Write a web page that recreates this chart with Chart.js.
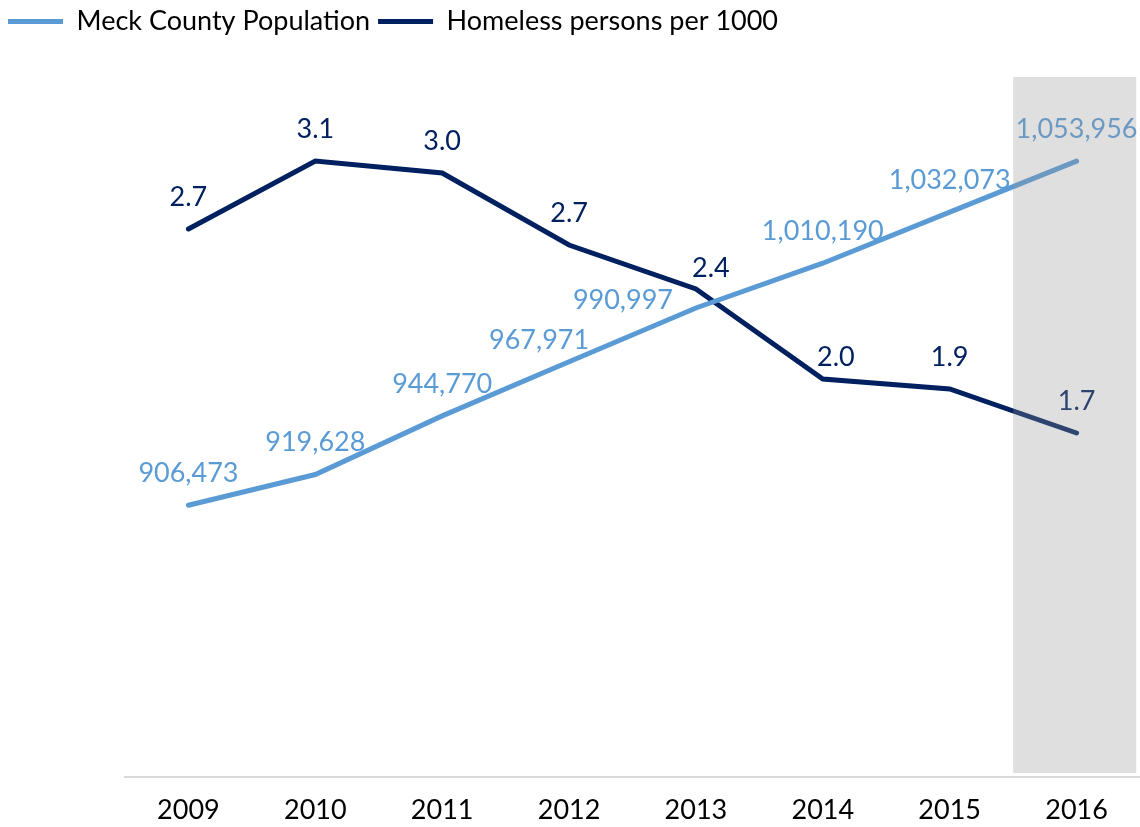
<!DOCTYPE html>
<html>
<head>
<meta charset="utf-8">
<script src="https://cdn.jsdelivr.net/npm/chart.js@4"></script>
<style>
  body { margin: 0; background: #fff; }
  #wrap { width: 1140px; height: 827px; }
</style>
</head>
<body>
<div id="wrap"><canvas id="canvas"></canvas></div>
<script>
// data
var years = ['2009', '2010', '2011', '2012', '2013', '2014', '2015', '2016'];
var population = [906473, 919628, 944770, 967971, 990997, 1010190, 1032073, 1053956];
var homeless = [2.74, 3.08, 3.02, 2.66, 2.44, 1.99, 1.94, 1.72];

var popColor = '#5B9BD5';
var homeColor = '#002060';
var font = 'Lato';

// labels that were moved by hand in the original (dataset-index: [dx, dy])
var labelNudge = {
    '0-3': [-30, -21],
    '0-4': [-73, -8],
    '1-4': [15, -21],
    '1-5': [13, -22]
};

// value labels above each point
var pointLabels = {
    id: 'pointLabels',
    afterDatasetsDraw: function(chart) {
        var ctx = chart.ctx;
        ctx.save();
        ctx.font = '27px ' + font;
        ctx.textAlign = 'center';
        ctx.textBaseline = 'middle';
        chart.data.datasets.forEach(function(ds, i) {
            var meta = chart.getDatasetMeta(i);
            meta.data.forEach(function(pt, j) {
                var v = ds.data[j];
                var txt = i == 0 ? v.toLocaleString('en-US') : v.toFixed(1);
                var n = labelNudge[i + '-' + j] || [0, -32];
                ctx.fillStyle = ds.borderColor;
                ctx.fillText(txt, pt.x + n[0], pt.y + n[1]);
            });
        });
        ctx.restore();
    }
};

// grey band over the last year, drawn on top so lines look muted
var band = {
    id: 'band',
    afterDraw: function(chart) {
        var x = chart.scales.x;
        var area = chart.chartArea;
        var step = x.getPixelForValue(1) - x.getPixelForValue(0);
        var left = x.getPixelForValue(years.length - 1) - step / 2;
        var ctx = chart.ctx;
        ctx.save();
        ctx.fillStyle = 'rgba(150,150,150,0.3)';
        ctx.fillRect(left, area.top, step * 0.97, area.bottom - area.top - 4);
        ctx.restore();
    }
};

// leave room under the legend
var legendGap = {
    id: 'legendGap',
    beforeUpdate: function(chart) {
        var lg = chart.legend;
        if (lg && !lg._gapPatched) {
            var fit = lg.fit;
            lg.fit = function() {
                fit.call(this);
                this.height = 77;
            };
            lg._gapPatched = true;
        }
    }
};

const ctx = document.getElementById('canvas').getContext('2d');
const myChart = new Chart(ctx, {
    type: 'line',
    data: {
        labels: years,
        datasets: [{
            label: 'Meck County Population',
            data: population,
            borderColor: popColor,
            backgroundColor: popColor,
            borderWidth: 5,
            borderCapStyle: 'round',
            pointRadius: 0,
            tension: 0,
            yAxisID: 'y'
        }, {
            label: 'Homeless persons per 1000',
            data: homeless,
            borderColor: homeColor,
            backgroundColor: homeColor,
            borderWidth: 5,
            borderCapStyle: 'round',
            pointRadius: 0,
            tension: 0,
            yAxisID: 'y1'
        }]
    },
    options: {
        responsive: true,
        maintainAspectRatio: false,
        animation: false,
        layout: { padding: 0 },
        plugins: {
            tooltip: { enabled: false },
            legend: {
                align: 'start',
                labels: {
                    usePointStyle: true,
                    pointStyle: 'line',
                    pointStyleWidth: 55,
                    boxHeight: 5,
                    color: '#000',
                    padding: 8,
                    font: { family: font, size: 27 }
                }
            }
        },
        scales: {
            x: {
                offset: true,
                grid: { display: false, drawTicks: false },
                border: { display: true, color: '#d9d9d9', width: 2 },
                ticks: {
                    color: '#000',
                    padding: 17,
                    font: { family: font, size: 27 }
                },
                afterFit: function(s) { s.height = 50; }
            },
            y: {
                display: true,
                min: 790000,
                max: 1090000,
                ticks: { display: false },
                grid: { display: false },
                border: { display: false },
                afterFit: function(s) { s.width = 125; }
            },
            y1: {
                display: false,
                position: 'right',
                min: 0,
                max: 3.5
            }
        }
    },
    plugins: [pointLabels, band, legendGap]
});
</script>
</body>
</html>
